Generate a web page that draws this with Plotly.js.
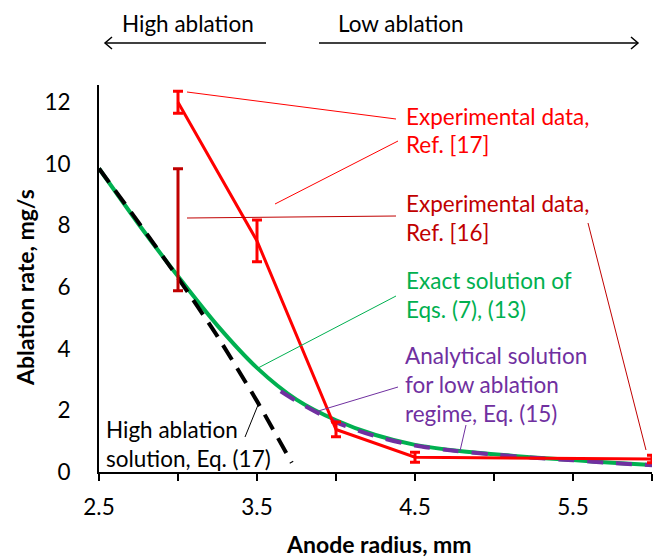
<!DOCTYPE html>
<html>
<head>
<meta charset="utf-8">
<script src="https://cdn.plot.ly/plotly-3.0.1.min.js"></script>
<style>
  html, body { margin: 0; padding: 0; background: #fff; }
  #chart { width: 653px; height: 560px; }
</style>
</head>
<body>
<div id="chart"></div>
<script>
// Experimental data, Ref. [17]
const ref17X = [3.0, 3.5, 4.0, 4.5, 6.0];
const ref17Y = [12.0, 7.5, 1.38, 0.48, 0.42];
const ref17Err = [0.36, 0.68, 0.24, 0.16, 0.12];

// Experimental data, Ref. [16]
const ref16X = [3.0];
const ref16Y = [7.86];
const ref16Err = [1.98];

// Exact solution of Eqs. (7), (13)
const exactX = [2.5, 2.75, 3.0, 3.25, 3.5, 3.75, 4.0, 4.25, 4.5, 4.75, 5.0, 5.25, 5.5, 5.75, 6.0];
const exactY = [9.85, 8.05, 6.35, 4.75, 3.38, 2.35, 1.68, 1.2, 0.88, 0.7, 0.58, 0.47, 0.39, 0.3, 0.23];

// Analytical solution for low ablation regime, Eq. (15)
const lowX = [3.65, 3.75, 4.0, 4.25, 4.5, 4.75, 5.0, 5.25, 5.5, 5.75, 6.0];
const lowY = [2.62, 2.3, 1.62, 1.16, 0.86, 0.69, 0.57, 0.46, 0.38, 0.29, 0.22];

// High ablation solution, Eq. (17)
const highX = [2.5, 2.75, 3.0, 3.25, 3.5, 3.72];
const highY = [9.85, 8.1, 6.3, 4.4, 2.3, 0.3];

// Axis ticks
const xTickVals = [2.5, 3.0, 3.5, 4.0, 4.5, 5.0, 5.5, 6.0];
const xTickText = ['2.5', '', '3.5', '', '4.5', '', '5.5', ''];
const yTickVals = [0, 2, 4, 6, 8, 10, 12];

const RED = '#ff0000', DARKRED = '#c00000', GREEN = '#00b050', PURPLE = '#7030a0';
const FONT = 'Lato, "Open Sans", sans-serif';
const TXT = 22.5;   // label / tick text size
const TTL = 23;     // axis title size

// plot-area pixel frame, used to place labels and leader lines
const L = 99, R = 652, T = 85, B = 472;
const px = p => (p - L) / (R - L);
const py = p => (B - p) / (B - T);

const traces = [
  {
    x: exactX, y: exactY, type: 'scatter', mode: 'lines',
    line: { color: GREEN, width: 4, shape: 'spline', smoothing: 0.8 },
    hoverinfo: 'skip'
  },
  {
    x: highX, y: highY, type: 'scatter', mode: 'lines',
    line: { color: '#000', width: 4, dash: '17px,10px', shape: 'spline', smoothing: 0.6 },
    hoverinfo: 'skip'
  },
  {
    x: lowX, y: lowY, type: 'scatter', mode: 'lines',
    line: { color: PURPLE, width: 4, dash: '16px,13px', shape: 'spline', smoothing: 0.8 },
    hoverinfo: 'skip'
  },
  {
    x: ref16X, y: ref16Y, type: 'scatter', mode: 'markers',
    marker: { size: 1, color: DARKRED },
    error_y: { type: 'data', array: ref16Err, visible: true, color: DARKRED, thickness: 3, width: 5 },
    cliponaxis: false, hoverinfo: 'skip'
  },
  {
    x: ref17X, y: ref17Y, type: 'scatter', mode: 'lines',
    line: { color: RED, width: 3 },
    error_y: { type: 'data', array: ref17Err, visible: true, color: RED, thickness: 3, width: 5 },
    cliponaxis: false, hoverinfo: 'skip'
  }
];

function label(text, x, y, color) {
  return {
    text: text, xref: 'paper', yref: 'paper', x: px(x), y: py(y),
    xanchor: 'left', yanchor: 'middle', showarrow: false,
    font: { family: FONT, size: TXT, color: color }
  };
}

function leader(x0, y0, x1, y1, color, w) {
  return {
    type: 'line', xref: 'paper', yref: 'paper',
    x0: px(x0), y0: py(y0), x1: px(x1), y1: py(y1),
    line: { color: color, width: w || 1 }
  };
}

const annotations = [
  label('Experimental data,', 404, 116, RED),
  label('Ref. [17]', 404, 144, RED),
  label('Experimental data,', 404, 203, DARKRED),
  label('Ref. [16]', 404, 232, DARKRED),
  label('Exact solution of', 404, 280, GREEN),
  label('Eqs. (7), (13)', 404, 309, GREEN),
  label('Analytical solution', 403, 355, PURPLE),
  label('for low ablation', 403, 384, PURPLE),
  label('regime, Eq. (15)', 403, 413, PURPLE),
  label('High ablation', 104, 429, '#000'),
  label('solution, Eq. (17)', 104, 458, '#000'),
  {
    text: 'High ablation', xref: 'paper', yref: 'paper', x: px(188), y: py(23),
    xanchor: 'center', yanchor: 'middle', showarrow: false,
    font: { family: FONT, size: TXT, color: '#000' }
  },
  {
    text: 'Low ablation', xref: 'paper', yref: 'paper', x: px(401), y: py(23),
    xanchor: 'center', yanchor: 'middle', showarrow: false,
    font: { family: FONT, size: TXT, color: '#000' }
  },
  {
    text: '<b>Ablation rate, mg/s</b>', xref: 'paper', yref: 'paper', x: px(25), y: py(288),
    xanchor: 'center', yanchor: 'middle', textangle: -90, showarrow: false,
    font: { family: FONT, size: TTL, color: '#000' }
  },
  {
    text: '<b>Anode radius, mm</b>', xref: 'paper', yref: 'paper', x: px(379), y: py(560),
    xanchor: 'center', yanchor: 'bottom', showarrow: false,
    font: { family: FONT, size: TTL, color: '#000' }
  }
];

const shapes = [
  // leader lines
  leader(187, 92, 396, 119, RED),
  leader(275, 204, 398, 141, RED),
  leader(187, 218, 396, 216, DARKRED),
  leader(588, 223, 646, 450, DARKRED),
  leader(258, 368, 396, 296, GREEN),
  leader(315, 412, 398, 387, PURPLE),
  leader(466, 425, 460, 451, PURPLE),
  leader(245, 437, 258, 405, '#000'),
  // regime arrows above the plot
  leader(266, 43, 105, 43, '#000', 1.5),
  {
    type: 'path', xref: 'paper', yref: 'paper',
    path: `M${px(112)},${py(37)} L${px(105)},${py(43)} L${px(112)},${py(49)}`,
    line: { color: '#000', width: 1.5 }
  },
  leader(319, 43, 638, 43, '#000', 1.5),
  {
    type: 'path', xref: 'paper', yref: 'paper',
    path: `M${px(631)},${py(37)} L${px(638)},${py(43)} L${px(631)},${py(49)}`,
    line: { color: '#000', width: 1.5 }
  }
];

const layout = {
  width: 653, height: 560,
  margin: { l: L, r: 653 - R, t: T, b: 560 - B },
  paper_bgcolor: '#fff', plot_bgcolor: '#fff',
  showlegend: false,
  font: { family: FONT, size: TXT, color: '#000' },
  xaxis: {
    range: [2.5, 6.0], tickmode: 'array', tickvals: xTickVals, ticktext: xTickText,
    showgrid: false, zeroline: false, showline: true, linecolor: '#000', linewidth: 2,
    ticks: 'outside', ticklen: 7, tickwidth: 2, tickcolor: '#000',
    ticklabelstandoff: 7,
    tickfont: { family: FONT, size: TXT, color: '#000' }
  },
  yaxis: {
    range: [0, 12.56], tickmode: 'array', tickvals: yTickVals,
    showgrid: false, zeroline: false, showline: true, linecolor: '#000', linewidth: 2,
    ticks: '', ticklabelstandoff: 22,
    tickfont: { family: FONT, size: TXT, color: '#000' }
  },
  annotations: annotations,
  shapes: shapes
};

Plotly.newPlot('chart', traces, layout, { staticPlot: true, displayModeBar: false });
</script>
</body>
</html>
